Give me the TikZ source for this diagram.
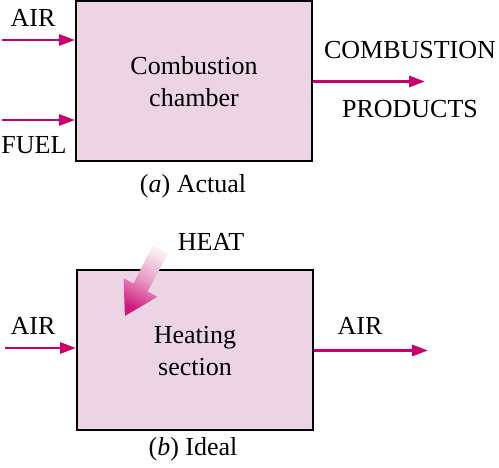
\documentclass[tikz,border=0pt]{standalone}
\usepackage{fontspec}
\setmainfont{Liberation Serif}
\usetikzlibrary{arrows.meta}

\definecolor{boxpink}{RGB}{236,212,228}
\definecolor{flowred}{RGB}{200,0,110}

\begin{document}
\begin{tikzpicture}[x=1pt,y=-1pt,
    font=\fontsize{26}{32}\selectfont,
    unit/.style={draw=black,line width=2pt,fill=boxpink,minimum width=236pt,
        minimum height=160pt,align=center,inner sep=0pt},
    flow/.style={draw=flowred,line width=2.8pt,-{Triangle[length=16pt,width=11pt]}},
    lbl/.style={inner sep=0pt}]

    \useasboundingbox (0,0) rectangle (499,468);

    % (a) actual: the combustion chamber
    \node[unit] (chamber) at (194,81.5) {Combustion\\chamber};
    \node[lbl] (captA) at (193,186) {(\textit{a}) Actual};

    % Streams in and out of the chamber
    \coordinate (airA) at (2,40);
    \coordinate (fuelA) at (2,120);
    \coordinate (prodA) at (425,81.5);
    \draw[flow] (airA) -- (airA -| chamber.west);
    \draw[flow] (fuelA) -- (fuelA -| chamber.west);
    \draw[flow] (chamber.east) -- (prodA);

    \node[lbl] (airAlbl) at (33,18) {AIR};
    \node[lbl] (fuelAlbl) at (34,145) {FUEL};
    \node[lbl] (combAlbl) at (410,50) {COMBUSTION};
    \node[lbl] (prodAlbl) at (410,109) {PRODUCTS};

    % (b) ideal: the heating section
    \node[unit,text depth=0pt] (heater) at (195,350.5) {Heating\\section};
    \node[lbl] (captB) at (193,449) {(\textit{b}) Ideal};

    \coordinate (airB) at (5,348);
    \coordinate (outB) at (428,350.5);
    \draw[flow] (airB) -- (airB -| heater.west);
    \draw[flow] (heater.east) -- (outB);

    \node[lbl] (airBlbl) at (33,326) {AIR};
    \node[lbl] (outBlbl) at (360,326) {AIR};
    \node[lbl] (heatlbl) at (211,242) {HEAT};

    % Heat arrow, fading towards its tail
    \shade[top color=flowred!8,bottom color=flowred!90,middle color=flowred!40,
        shading angle=-28]
        (168,253.8) -- (147.6,291.5) -- (157.5,296.8) -- (124.9,316)
        -- (123.6,278.2) -- (133.5,283.5) -- (152.5,245.5) -- cycle;

\end{tikzpicture}
\end{document}
